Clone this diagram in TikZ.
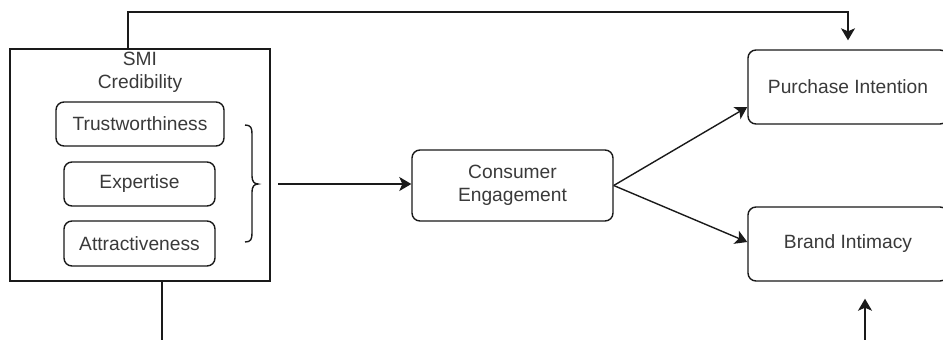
\documentclass[tikz,border=0pt]{standalone}
\usepackage{fontspec}
\setmainfont{Liberation Sans}
\usetikzlibrary{arrows.meta}
\definecolor{txt}{HTML}{3A3A3A}
\definecolor{ln}{HTML}{1A1A1A}
\begin{document}
\begin{tikzpicture}[x=0.5pt,y=-0.5pt,
  font=\fontsize{9.6pt}{11.5pt}\selectfont, text=txt,
  line width=0.7pt,
  conn/.style={draw=ln},
  rbox/.style={draw=ln, rounded corners=4pt, align=center, inner sep=0pt},
  sbox/.style={draw=ln, inner sep=0pt},
  arr/.style={draw=ln, -{Stealth[length=6pt,width=7pt,inset=1.5pt]}}]
\useasboundingbox (0,0) rectangle (943,339);
\fill[white] (0,0) rectangle (943,339);
% outer box
\node[sbox, minimum width=130pt, minimum height=116pt] (outer) at (140,165) {};
\node[align=center] (title) at (140,72) {SMI\\Credibility};
\node[rbox, minimum width=84pt, minimum height=22pt] (trust) at (140,124) {Trustworthiness};
\node[rbox, minimum width=75.5pt, minimum height=22pt] (exp) at (139.5,184) {Expertise};
\node[rbox, minimum width=75.5pt, minimum height=22.5pt] (attr) at (139.5,243.5) {Attractiveness};
% brace
\draw[conn] (245,125) .. controls (251,125) and (252,128) .. (252,134)
  -- (252,176) .. controls (252,181) and (254,184) .. (258,184)
  .. controls (254,184) and (252,187) .. (252,192)
  -- (252,233) .. controls (252,239) and (251,242) .. (245,242);
\coordinate (bt) at (278,184);
% other nodes
\node[rbox, minimum width=100.5pt, minimum height=35.5pt] (ce) at (512.5,185.5) {Consumer\\Engagement};
\node[rbox, minimum width=100pt, minimum height=37pt] (pi) at (848,87) {Purchase Intention};
\node[rbox, minimum width=100pt, minimum height=37pt] (bi) at (848,244) {Brand Intimacy};
% connectors
\draw[arr] (bt) -- (ce.west |- bt);
\draw[arr] (ce.east) -- ([yshift=-10pt]pi.west);
\draw[arr] (ce.east) -- ([yshift=1pt]bi.west);
\coordinate (topA) at (outer.north -| 128,0);
\draw[arr, shorten >=4.5pt] (topA) -- (128,12) -| (pi.north);
\coordinate (botA) at (outer.south -| 162,0);
\coordinate (botB) at (162,340);
\draw[conn] (botA) -- (botB);
\coordinate (brS) at (865,340);
\draw[arr, shorten >=8.5pt] (brS) -- (bi.south -| brS);
\end{tikzpicture}
\end{document}
